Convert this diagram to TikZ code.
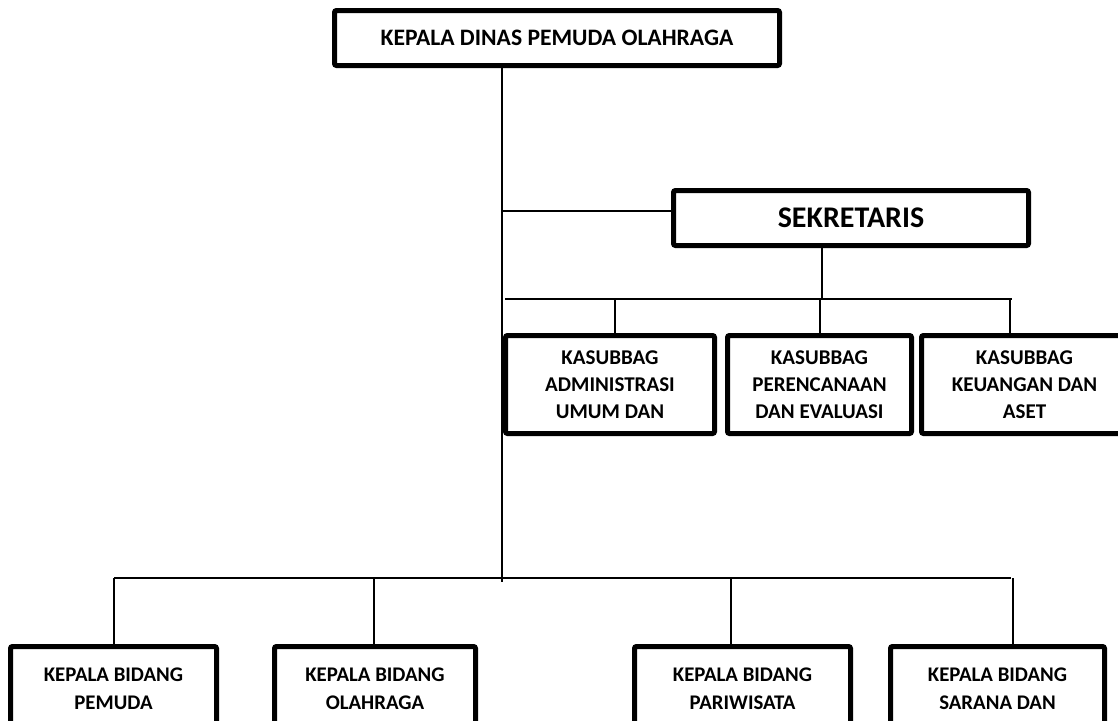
\documentclass[tikz,border=0pt]{standalone}
\usepackage{fontspec}
\setmainfont{Carlito}
\tikzstyle{box}=[draw, line width=5pt, rounded corners=2pt, align=center, inner sep=0pt]
\tikzstyle{link}=[line width=1.5pt]
\newcommand{\subfont}{\bfseries\fontsize{21}{27}\selectfont}
\newcommand{\bidfont}{\bfseries\fontsize{20.8}{27.7}\selectfont}

\begin{document}
\begin{tikzpicture}[x=1pt, y=-1pt]
\useasboundingbox (0,0) rectangle (1118,720);
\clip (0,0) rectangle (1118,720);
% Boxes
    \node[box, minimum width=445pt, minimum height=55pt, font=\bfseries\fontsize{23.6}{28}\selectfont] (kepala) at (557,38) {KEPALA DINAS PEMUDA OLAHRAGA};
    \node[box, minimum width=355pt, minimum height=55pt, font=\bfseries\fontsize{30}{34}\selectfont] (sek) at (851,218) {SEKRETARIS};
    \node[box, minimum width=209pt, minimum height=98pt, font=\subfont] (umum) at (610,384.5) {KASUBBAG\\ADMINISTRASI\\UMUM DAN};
    \node[box, minimum width=184pt, minimum height=98pt, font=\subfont] (renc) at (819.5,384.5) {KASUBBAG\\PERENCANAAN\\DAN EVALUASI};
    \node[box, minimum width=206pt, minimum height=98pt, font=\subfont] (uang) at (1024.5,384.5) {KASUBBAG\\KEUANGAN DAN\\ASET};
    \node[box, minimum width=206pt, minimum height=85pt, font=\bidfont] (pemuda) at (113.5,689) {KEPALA BIDANG\\PEMUDA};
    \node[box, minimum width=201pt, minimum height=85pt, font=\bidfont] (olah) at (375,689) {KEPALA BIDANG\\OLAHRAGA};
    \node[box, minimum width=216pt, minimum height=85pt, font=\bidfont] (wisata) at (742.5,689) {KEPALA BIDANG\\PARIWISATA};
    \node[box, minimum width=214pt, minimum height=85pt, font=\bidfont] (sarana) at (997.5,689) {KEPALA BIDANG\\SARANA DAN};
% Spine
    \coordinate (spine) at (502,582);
    \draw[link] (spine |- kepala.south) -- (spine);
    \coordinate (s1) at (502,211);
    \draw[link] (s1) -- (s1 -| sek.west);
% Kasubbag bus
    \coordinate (sbus) at (822,298);
    \draw[link] (sbus |- sek.south) -- (sbus);
    \coordinate (kbL) at (505,299);
    \coordinate (kbR) at (1012,299);
    \draw[link] (kbL) -- (kbR);
    \coordinate (k1) at (615,299);
    \coordinate (k2) at (820,299);
    \coordinate (k3) at (1010,299);
    \draw[link] (k1) -- (k1 |- umum.north);
    \draw[link] (k2) -- (k2 |- renc.north);
    \draw[link] (k3) -- (k3 |- uang.north);
% Bidang bus
    \coordinate (bbL) at (114,578);
    \coordinate (bbR) at (1011,578);
    \draw[link] (bbL) -- (bbR);
    \coordinate (b1) at (114,578);
    \coordinate (b2) at (374,578);
    \coordinate (b3) at (731,578);
    \coordinate (b4) at (1013,578);
    \draw[link] (b1) -- (b1 |- pemuda.north);
    \draw[link] (b2) -- (b2 |- olah.north);
    \draw[link] (b3) -- (b3 |- wisata.north);
    \draw[link] (b4) -- (b4 |- sarana.north);
\end{tikzpicture}
\end{document}
